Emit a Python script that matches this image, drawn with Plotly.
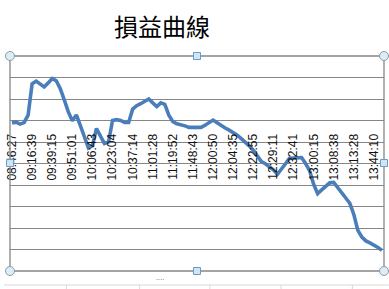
import plotly.graph_objects as go

title_text = "損益曲線"
tick_labels = ["08:46:27", "09:16:39", "09:39:15", "09:51:01", "10:06:43", "10:23:04",
               "10:37:14", "11:01:28", "11:19:52", "11:48:43", "12:00:50", "12:04:35",
               "12:22:55", "12:29:11", "12:32:41", "13:00:15", "13:08:38", "13:13:28",
               "13:44:10"]
label_step = 5
profit = [-110, -80, -170, -100, 250, 1710, 1830, 1670, 1560, 1750,
          1950, 1850, 1480, 960, 400, -10, 260, -240, -820, -1280,
          -1180, -370, -730, -1070, -1000, 0, 40, 0, -90, -90,
          530, 690, 780, 880, 1000, 820, 650, 820, 750, 250,
          -50, -150, -190, -250, -320, -330, -330, -320, -220, -100,
          20, -100, -240, -350, -450, -550, -680, -840, -990, -1180,
          -1380, -1640, -1910, -2010, -2130, -2290, -2500, -2280, -2010, -1750,
          -1730, -1700, -1720, -2000, -2330, -2960, -3400, -3230, -3060, -2900,
          -2880, -3130, -3380, -3620, -3850, -4370, -5110, -5420, -5600, -5690,
          -5780, -5910, -6040]
y_min, y_max, y_step = -7000, 3000, 1000

idx = list(range(len(profit)))
tickvals = idx[::label_step][:len(tick_labels)]

fig = go.Figure()
fig.add_trace(go.Scatter(x=idx, y=profit, mode="lines",
                         line=dict(color="#4a7ebb", width=3.6), hoverinfo="skip"))

W, H = 389, 289
L, R, T, B = 6, 5, 56, 18
pw, ph = W - L - R, H - T - B

fig.update_layout(
    width=W, height=H, margin=dict(l=L, r=R, t=T, b=B),
    paper_bgcolor="white", plot_bgcolor="white", showlegend=False,
    xaxis=dict(range=[-0.5, len(profit) - 0.5], tickvals=tickvals, ticktext=tick_labels,
               tickangle=-90, showgrid=False, zeroline=False, showline=False,
               ticks="", anchor="free", position=(0 - y_min) / (y_max - y_min),
               ticklabelstandoff=10,
               tickfont=dict(family="Liberation Sans, Arial", size=12, color="#111")),
    yaxis=dict(range=[y_min, y_max], dtick=y_step, showgrid=True, gridcolor="#868686",
               gridwidth=1, zeroline=False, showticklabels=False, ticks="", showline=False),
)

# plot area border
fig.add_shape(type="rect", xref="paper", yref="paper", x0=0, x1=1, y0=0, y1=1,
              line=dict(color="#868686", width=1.3), layer="above")

# title
fig.add_annotation(text=title_text, xref="paper", yref="paper",
                   x=(160 - L) / pw, y=(H - B - 25) / ph, showarrow=False,
                   xanchor="center", yanchor="middle",
                   font=dict(family="Noto Sans CJK TC", size=24, color="black"))

# spreadsheet cell lines at the bottom
fig.add_shape(type="line", xref="paper", yref="paper", x0=-L / pw, x1=(W - L) / pw,
              y0=(H - B - 285) / ph, y1=(H - B - 285) / ph,
              line=dict(color="#d8d8d8", width=1))
for xs in [63, 137, 208, 280, 352]:
    fig.add_shape(type="line", xref="paper", yref="paper", x0=(xs - L) / pw, x1=(xs - L) / pw,
                  y0=(H - B - 285) / ph, y1=(H - B - 290) / ph,
                  line=dict(color="#d8d8d8", width=1))
fig.add_annotation(text="····", xref="paper", yref="paper", x=(158 - L) / pw,
                   y=(H - B - 286) / ph, showarrow=False, font=dict(size=8, color="#666"))

# selection handles
def handle(px, py, kind):
    xa = (px - L) / pw
    ya = (H - B - py) / ph
    if kind == "circle":
        fig.add_shape(type="circle", xref="paper", yref="paper", xsizemode="pixel",
                      ysizemode="pixel", xanchor=xa, yanchor=ya, x0=-4.5, x1=4.5,
                      y0=-4.5, y1=4.5, fillcolor="#dcedf6",
                      line=dict(color="#8a9aa8", width=1), layer="above")
    else:
        fig.add_shape(type="rect", xref="paper", yref="paper", xsizemode="pixel",
                      ysizemode="pixel", xanchor=xa, yanchor=ya, x0=-3.5, x1=3.5,
                      y0=-3.5, y1=3.5, fillcolor="#cfe5f5",
                      line=dict(color="#6c9cc4", width=1), layer="above")

for (hx, hy) in [(6, 56), (384, 56), (6, 271), (384, 271)]:
    handle(hx, hy, "circle")
for (hx, hy) in [(195, 56), (195, 271), (6, 163), (384, 163)]:
    handle(hx, hy, "square")

fig.write_html("out.html")
